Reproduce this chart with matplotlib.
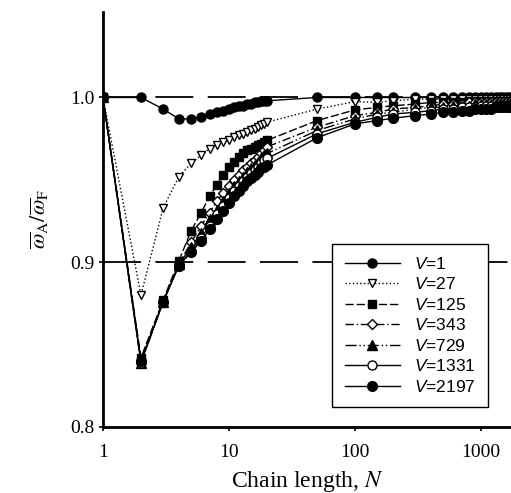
import matplotlib
matplotlib.use('Agg')
import matplotlib.pyplot as plt

plt.rcParams['mathtext.fontset'] = 'custom'
plt.rcParams['mathtext.it'] = 'Liberation Sans:italic'
plt.rcParams['mathtext.rm'] = 'Liberation Sans'

# chain lengths
N_short = list(range(1, 21))
N_long = [50, 100, 150, 200, 300, 400, 500, 600, 700, 800, 900, 1000,
          1100, 1200, 1300, 1400, 1500, 1600, 1700, 1800]
N = N_short + N_long

# omega_A / omega_F for each box volume V
v1 = [1.000, 1.000, 0.993, 0.987, 0.987, 0.988, 0.990, 0.991, 0.992, 0.993,
      0.994, 0.995, 0.995, 0.996, 0.996, 0.997, 0.997, 0.998, 0.998, 0.998] + \
     [1.000] * 20
v27 = [1.000, 0.880, 0.933, 0.952, 0.960, 0.965, 0.969, 0.971, 0.973, 0.974,
       0.976, 0.977, 0.978, 0.979, 0.980, 0.981, 0.982, 0.983, 0.984, 0.985] + \
      [0.993, 0.9975, 0.997, 0.998, 0.999, 0.999, 0.999, 0.999, 0.999, 0.999,
       0.999, 0.999, 0.999, 0.999, 0.999, 0.999, 0.999, 0.999, 0.999, 0.999]
v125 = [1.000, 0.842, 0.877, 0.901, 0.919, 0.930, 0.940, 0.947, 0.953, 0.958,
        0.961, 0.964, 0.966, 0.968, 0.969, 0.970, 0.971, 0.972, 0.973, 0.974] + \
       [0.986, 0.9925, 0.994, 0.995, 0.996, 0.997, 0.997, 0.997, 0.997, 0.998,
        0.998, 0.998, 0.998, 0.998, 0.998, 0.998, 0.998, 0.998, 0.998, 0.998]
v343 = [1.000, 0.840, 0.876, 0.899, 0.912, 0.922, 0.930, 0.937, 0.942, 0.946,
        0.950, 0.953, 0.956, 0.958, 0.960, 0.962, 0.964, 0.966, 0.968, 0.970] + \
       [0.982, 0.989, 0.991, 0.993, 0.994, 0.995, 0.996, 0.996, 0.996, 0.997,
        0.997, 0.997, 0.997, 0.997, 0.997, 0.997, 0.997, 0.997, 0.997, 0.997]
v729 = [1.000, 0.839, 0.876, 0.899, 0.909, 0.918, 0.926, 0.932, 0.937, 0.942,
        0.946, 0.949, 0.952, 0.955, 0.957, 0.959, 0.961, 0.963, 0.965, 0.966] + \
       [0.980, 0.987, 0.990, 0.991, 0.993, 0.994, 0.994, 0.995, 0.995, 0.995,
        0.996, 0.996, 0.996, 0.996, 0.996, 0.996, 0.996, 0.996, 0.996, 0.996]
v1331 = [1.000, 0.839, 0.876, 0.898, 0.907, 0.915, 0.922, 0.929, 0.934, 0.939,
         0.943, 0.946, 0.949, 0.952, 0.954, 0.956, 0.958, 0.960, 0.962, 0.963] + \
        [0.978, 0.985, 0.988, 0.990, 0.991, 0.992, 0.993, 0.993, 0.994, 0.994,
         0.994, 0.995, 0.995, 0.995, 0.995, 0.995, 0.995, 0.995, 0.995, 0.995]
v2197 = [1.000, 0.840, 0.876, 0.898, 0.906, 0.913, 0.920, 0.926, 0.931, 0.936,
         0.940, 0.943, 0.946, 0.949, 0.951, 0.953, 0.955, 0.957, 0.958, 0.959] + \
        [0.9756, 0.984, 0.986, 0.9874, 0.989, 0.990, 0.991, 0.991, 0.992, 0.992,
         0.993, 0.993, 0.993, 0.993, 0.994, 0.994, 0.994, 0.994, 0.994, 0.994]

labels = ['1', '27', '125', '343', '729', '1331', '2197']
series = [v1, v27, v125, v343, v729, v1331, v2197]
markers = ['o', 'v', 's', 'D', '^', 'o', 'o']
filled = [True, False, True, False, True, False, True]
styles = ['-', ':', (0, (6, 2)), (0, (6, 2, 1, 2)), (0, (8, 2, 1, 2, 1, 2)), '-', '-']
msizes = [6.5, 6, 6, 5.5, 6.5, 6.5, 7]

fig = plt.figure(figsize=(5.11, 4.93), dpi=100)
ax = fig.add_axes([0.2016, 0.134, 0.8, 0.842])

# dashed reference lines
for yv in [0.9, 1.0]:
    ax.axhline(yv, color='black', lw=1.3, dashes=(21, 8), zorder=1)

for lab, y, m, f, ls, ms in zip(labels, series, markers, filled, styles, msizes):
    ax.plot(N, y, linestyle=ls, color='black', lw=1.0, marker=m, markersize=ms,
            markerfacecolor='black' if f else 'white', markeredgecolor='black',
            markeredgewidth=1.0, label='$V$=' + lab, zorder=3)

ax.set_xscale('log')
ax.set_xlim(1, 1750)
ax.set_ylim(0.8, 1.052)
ax.set_xticks([1, 10, 100, 1000])
ax.set_xticklabels(['1', '10', '100', '1000'])
ax.set_yticks([0.8, 0.9, 1.0])
ax.set_yticklabels(['0.8', '0.9', '1.0'])
ax.minorticks_off()

for s in ['top', 'right']:
    ax.spines[s].set_visible(False)
for s in ['left', 'bottom']:
    ax.spines[s].set_linewidth(2)

ax.tick_params(axis='x', direction='out', length=3, width=1.2, pad=9,
               labelsize=14, labelfontfamily='Liberation Serif')
ax.tick_params(axis='y', direction='inout', length=6, width=1.2, pad=3,
               labelsize=14, labelfontfamily='Liberation Serif')

ax.set_xlabel('Chain length, $N$', fontsize=17, family='Liberation Serif',
              labelpad=6, math_fontfamily='stix')
ax.set_ylabel(r'$\overline{\omega}_\mathrm{A}/\overline{\omega}_\mathrm{F}$',
              fontsize=16, labelpad=14, math_fontfamily='stix')

leg = ax.legend(loc='lower right', bbox_to_anchor=(0.941, 0.048), frameon=True,
                fancybox=False, edgecolor='black', framealpha=1,
                prop={'family': 'Liberation Sans', 'size': 12.5},
                handlelength=3.2, handletextpad=0.8, labelspacing=0.26,
                borderpad=0.7, borderaxespad=0)
leg.get_frame().set_linewidth(1.0)

fig.savefig('out.png', dpi=100)
